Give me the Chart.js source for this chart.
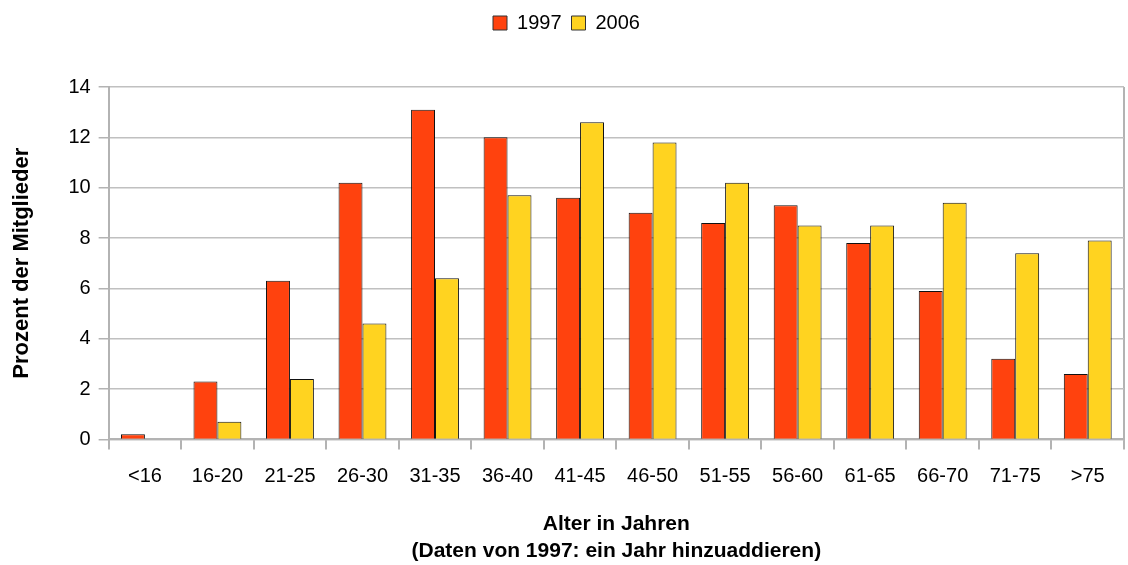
<!DOCTYPE html>
<html>
<head>
<meta charset="utf-8">
<script src="https://cdn.jsdelivr.net/npm/chart.js@4"></script>
<style>
  body { margin: 0; background: #fff; }
  #wrap { width: 1128px; height: 565px; }
</style>
</head>
<body>
<div id="wrap"><canvas id="myChart"></canvas></div>
<script>
let labels = ['<16', '16-20', '21-25', '26-30', '31-35', '36-40', '41-45', '46-50', '51-55', '56-60', '61-65', '66-70', '71-75', '>75'];
let values1997 = [0.2, 2.3, 6.3, 10.2, 13.1, 12.0, 9.6, 9.0, 8.6, 9.3, 7.8, 5.9, 3.2, 2.6];
let values2006 = [0.03, 0.7, 2.4, 4.6, 6.4, 9.7, 12.6, 11.8, 10.2, 8.5, 8.5, 9.4, 7.4, 7.9];
let seriesNames = ['1997', '2006'];
let colorHex = ['#ff420e', '#ffd320'];

Chart.defaults.font.family = '"Liberation Sans", Arial, sans-serif';
Chart.defaults.color = '#000';

// push the plot down below the legend
let legendGap = {
  id: 'legendGap',
  beforeInit(chart) {
    let fit = chart.legend.fit;
    chart.legend.fit = function () {
      fit.bind(chart.legend)();
      this.height += 44;
    };
  }
};

let ctx = document.getElementById('myChart').getContext('2d');
let myChart = new Chart(ctx, {
  type: 'bar',
  data: {
    labels: labels,
    datasets: [{
      label: seriesNames[0],
      data: values1997,
      backgroundColor: colorHex[0],
      borderColor: '#111',
      borderWidth: 1
    }, {
      label: seriesNames[1],
      data: values2006,
      backgroundColor: colorHex[1],
      borderColor: '#111',
      borderWidth: 1
    }]
  },
  options: {
    responsive: true,
    maintainAspectRatio: false,
    animation: false,
    categoryPercentage: 0.66,
    barPercentage: 1,
    layout: {
      padding: { top: 3, right: 4, left: 9, bottom: 0 }
    },
    plugins: {
      legend: {
        position: 'top',
        labels: {
          boxWidth: 14,
          boxHeight: 14,
          padding: 10,
          font: { size: 20 },
          generateLabels: (chart) => chart.data.datasets.map((ds, i) => ({
            text: ds.label,
            fillStyle: ds.backgroundColor,
            strokeStyle: '#333',
            lineWidth: 1,
            datasetIndex: i,
            fontColor: '#000'
          }))
        }
      },
      tooltip: { enabled: false }
    },
    scales: {
      x: {
        grid: {
          offset: true,
          drawOnChartArea: true,
          color: (c) => c.type === 'scale' ? '#b3b3b3' : 'transparent',
          tickColor: '#b3b3b3',
          tickLength: 10,
          lineWidth: 2
        },
        border: { color: '#b3b3b3', width: 2 },
        ticks: { font: { size: 20 }, padding: 15, maxRotation: 0, autoSkip: false },
        title: {
          display: true,
          text: ['Alter in Jahren', '(Daten von 1997: ein Jahr hinzuaddieren)'],
          font: { size: 21, weight: 'bold', lineHeight: 1.3 },
          padding: { top: 7, bottom: 0 }
        }
      },
      y: {
        min: 0,
        max: 14,
        grid: {
          color: (c) => (c.tick && c.tick.value % 2 === 0) ? '#c0c0c0' : 'transparent',
          tickColor: '#b3b3b3',
          tickLength: 10,
          lineWidth: 1.5
        },
        border: { color: '#b3b3b3', width: 2 },
        ticks: {
          stepSize: 1,
          font: { size: 20 },
          padding: 8,
          callback: (v) => v % 2 === 0 ? v : ''
        },
        title: {
          display: true,
          text: 'Prozent der Mitglieder',
          font: { size: 22, weight: 'bold' },
          padding: { top: 0, bottom: 25 }
        }
      }
    }
  },
  plugins: [legendGap]
});
</script>
</body>
</html>
